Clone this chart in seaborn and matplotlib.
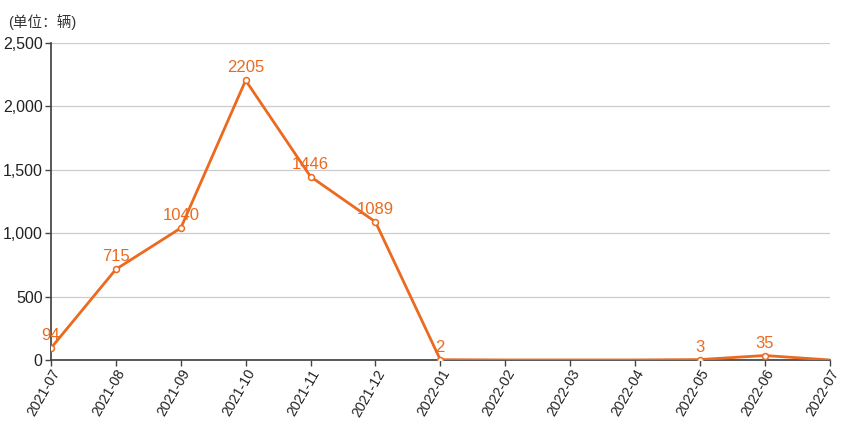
import matplotlib
import matplotlib.pyplot as plt
import numpy as np
import pandas as pd

matplotlib.use('Agg')
import seaborn as sns
from matplotlib.ticker import FuncFormatter

ORANGE = '#EB6A1F'

months = ['2021-07', '2021-08', '2021-09', '2021-10', '2021-11', '2021-12', '2022-01',
          '2022-02', '2022-03', '2022-04', '2022-05', '2022-06', '2022-07']
sales = [94, 715, 1040, 2205, 1446, 1089, 2, 0, 0, 0, 3, 35, 0]
# months that show a point marker and a value label
shown = [True, True, True, True, True, True, True, False, False, False, True, True, False]

df = pd.DataFrame({'month': months, 'sales': sales, 'shown': shown})
df['pos'] = np.arange(len(df))

sns.set_theme(style='white')
plt.rcParams['font.family'] = ['Liberation Sans', 'Noto Sans CJK SC', 'DejaVu Sans']

fig = plt.figure(figsize=(8.5, 4.21), dpi=100)
ax = fig.add_axes([0.06, 0.145, 0.916, 0.753])

sns.lineplot(data=df, x='pos', y='sales', color=ORANGE, linewidth=2, ax=ax, zorder=3)
pts = df[df['shown']]
sns.scatterplot(data=pts, x='pos', y='sales', s=18, color='white', edgecolor=ORANGE,
                linewidth=1.1, ax=ax, zorder=4)
for _, r in pts.iterrows():
    ax.annotate(str(r['sales']), (r['pos'], r['sales']), xytext=(0, 3.5),
                textcoords='offset points', ha='center', va='bottom',
                color=ORANGE, fontsize=12)

ax.set_xlim(0, len(months) - 1)
ax.set_ylim(0, 2500)
ax.set_yticks([0, 500, 1000, 1500, 2000, 2500])
ax.yaxis.set_major_formatter(FuncFormatter(lambda v, p: f'{int(v):,}'))
ax.set_xticks(df['pos'])
ax.set_xticklabels(months, rotation=60, ha='right', rotation_mode='anchor')
ax.grid(axis='y', color='#cccccc', linewidth=0.9)
ax.set_axisbelow(True)
for s in ['top', 'right']:
    ax.spines[s].set_visible(False)
ax.spines['left'].set_color('#444444')
ax.spines['bottom'].set_color('#444444')
ax.tick_params(axis='both', which='both', direction='out', length=4, width=1,
               color='#444444', labelsize=11.5, labelcolor='#222222', pad=2,
               left=True, bottom=True)
ax.tick_params(axis='x', labelsize=10.2, pad=1)
ax.set_xlabel('')
ax.set_ylabel('')
fig.text(0.01, 0.948, '(单位：辆)', fontsize=10.5, color='#333333', ha='left', va='center')

fig.savefig('out.png', dpi=100)
